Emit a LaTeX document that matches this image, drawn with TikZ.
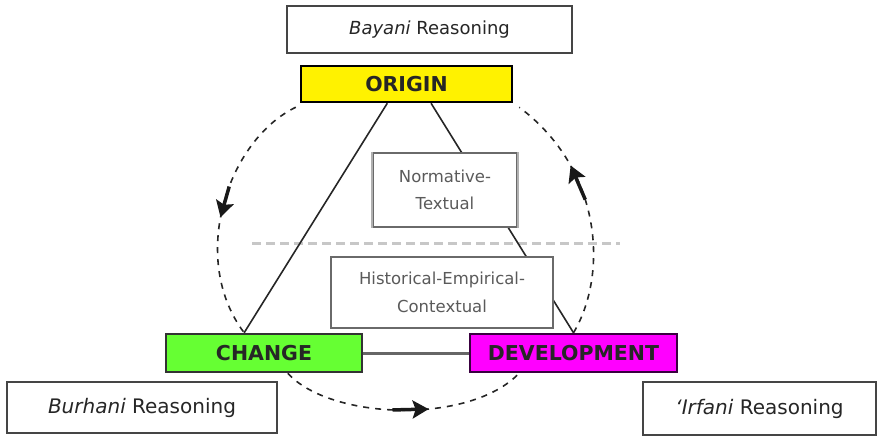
\documentclass[tikz,border=0pt]{standalone}
\usepackage{fontspec}
\setmainfont{DejaVu Sans}
\usetikzlibrary{arrows.meta,calc}
\pgfdeclarelayer{background}
\pgfsetlayers{background,main}
\definecolor{boxgray}{HTML}{454545}
\definecolor{midgray}{HTML}{6A6A6A}
\definecolor{lightedge}{HTML}{B0B0B0}
\definecolor{txtgray}{HTML}{5A5A5A}
\definecolor{chgreen}{HTML}{66FF33}
\definecolor{devmag}{HTML}{FF00FF}
\definecolor{devborder}{HTML}{3A0040}
\tikzset{
  reasonbox/.style={draw=boxgray, line width=2.2pt, fill=white, inner sep=0pt, text=black!85},
  conceptbox/.style={draw=midgray, line width=2pt, fill=white, inner sep=0pt, text=txtgray, align=center},
  stagebox/.style={line width=2.5pt, inner sep=0pt, text=black!85, font=\fontsize{20.5}{24}\selectfont\bfseries},
  solidline/.style={line width=1.6pt, black!85},
  cyclearc/.style={line width=1.6pt, black!85, dash pattern=on 6pt off 6pt},
  arrowhead/.style={line width=3.5pt, black!90, -{Stealth[length=16pt,width=18pt,inset=3pt]}}
}
\begin{document}
\begin{tikzpicture}[x=1pt,y=-1pt]
\useasboundingbox (0,0) rectangle (877,436);
% reasoning boxes
\node[reasonbox, minimum width=285pt, minimum height=47pt, font=\fontsize{18}{20}\selectfont] (bayani) at (429.5,29.5) {\textit{Bayani} Reasoning};
\node[reasonbox, minimum width=270pt, minimum height=51pt, font=\fontsize{20}{22}\selectfont] (burhani) at (142,407.5) {\textit{Burhani} Reasoning};
\node[reasonbox, minimum width=233pt, minimum height=53pt, font=\fontsize{20}{22}\selectfont] (irfani) at (759.5,408.5) {\textit{‘Irfani} Reasoning};
% stage boxes
\node[stagebox, draw=black, fill=yellow, minimum width=211pt, minimum height=36pt] (origin) at (406.5,84) {ORIGIN};
\node[stagebox, draw=black!80, fill=chgreen, minimum width=196pt, minimum height=38pt] (change) at (264,353) {CHANGE};
\node[stagebox, draw=devborder, fill=devmag, minimum width=207pt, minimum height=38pt] (development) at (573.5,353) {DEVELOPMENT};
% concept boxes
\node[conceptbox, minimum width=144pt, minimum height=74pt, font=\fontsize{16.5}{27}\selectfont] (normative) at (445,190) {Normative-\\Textual};
\node[conceptbox, minimum width=222pt, minimum height=71pt, font=\fontsize{16.5}{28}\selectfont] (historical) at (442,292.5) {Historical-Empirical-\\Contextual};
\draw[lightedge, line width=2pt] (normative.north west) -- (normative.south west);
\draw[lightedge, line width=2pt] (normative.north east) -- (normative.south east);
% anchor coordinates for connectors
\coordinate (oa) at ($(origin.south west)!0.41!(origin.south east)$);
\coordinate (ob) at ($(origin.south west)!0.615!(origin.south east)$);
\coordinate (ca) at ($(change.north west)!0.40!(change.north east)$);
\coordinate (db) at ($(development.north west)!0.50!(development.north east)$);
\coordinate (a1s) at ($(origin.south west)+(-4,4)$);
\coordinate (a2s) at ($(change.south west)!0.62!(change.south east)$);
\coordinate (a2e) at ($(development.south west)!0.24!(development.south east)$);
\coordinate (a3e) at ($(origin.south east)+(6,4)$);
\coordinate (hl) at (252,243);
\coordinate (hr) at (620,243);
\begin{pgfonlayer}{background}
  \draw[line width=3pt, black!22, dash pattern=on 9pt off 5pt] (hl) -- (hr);
  \draw[solidline] (oa) -- (ca);
  \draw[solidline] (ob) -- (db);
  \draw[line width=3pt, black!60] (change.east) -- (development.west);
  \draw[cyclearc] (a1s) .. controls (228,140) and (188,258) .. (ca)
     coordinate[pos=0.43] (m1a) coordinate[pos=0.55] (m1b);
  \draw[cyclearc] (a2s) .. controls (330,420) and (470,425) .. (a2e)
     coordinate[pos=0.47] (m2a) coordinate[pos=0.60] (m2b);
  \draw[cyclearc] (db) .. controls (608,275) and (603,170) .. (a3e)
     coordinate[pos=0.59] (m3a) coordinate[pos=0.73] (m3b);
\end{pgfonlayer}
\draw[arrowhead] (m1a) -- (m1b);
\draw[arrowhead] (m2a) -- (m2b);
\draw[arrowhead] (m3a) -- (m3b);
\end{tikzpicture}
\end{document}
